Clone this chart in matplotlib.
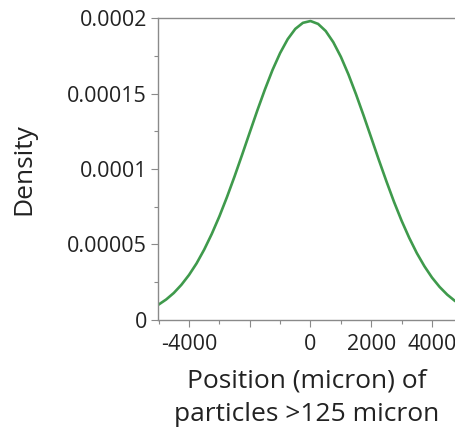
import matplotlib
matplotlib.use("Agg")
import matplotlib.pyplot as plt
from matplotlib.ticker import MultipleLocator

# normal density curve
position = [-5000, -4750, -4500, -4250, -4000, -3750, -3500, -3250, -3000, -2750,
            -2500, -2250, -2000, -1750, -1500, -1250, -1000, -750, -500, -250,
            0, 250, 500, 750, 1000, 1250, 1500, 1750, 2000, 2250,
            2500, 2750, 3000, 3250, 3500, 3750, 4000, 4250, 4500, 4750, 5000]
density = [1.02e-5, 1.36e-5, 1.79e-5, 2.33e-5, 2.98e-5, 3.75e-5, 4.66e-5, 5.70e-5, 6.86e-5, 8.14e-5,
           9.51e-5, 10.95e-5, 12.42e-5, 13.88e-5, 15.27e-5, 16.56e-5, 17.68e-5, 18.60e-5, 19.28e-5, 19.68e-5,
           19.80e-5, 19.61e-5, 19.14e-5, 18.40e-5, 17.43e-5, 16.26e-5, 14.94e-5, 13.53e-5, 12.07e-5, 10.60e-5,
           9.18e-5, 7.82e-5, 6.57e-5, 5.44e-5, 4.43e-5, 3.56e-5, 2.81e-5, 2.19e-5, 1.68e-5, 1.27e-5, 0.95e-5]

x_ticks = [-4000, -2000, 0, 2000, 4000]
x_ticklabels = ["-4000", "", "0", "2000", "4000"]
y_ticks = [0, 0.00005, 0.0001, 0.00015, 0.0002]
y_ticklabels = ["0", "0.00005", "0.0001", "0.00015", "0.0002"]

plt.rcParams["font.family"] = ["Open Sans", "DejaVu Sans"]

fig = plt.figure(figsize=(4.56, 4.34), dpi=100)
ax = fig.add_axes([0.3465, 0.2627, 0.6535, 0.6958])

ax.plot(position, density, color="#3f9a4c", linewidth=1.9)

ax.set_xlim(-5020, 4790)
ax.set_ylim(0, 0.0002)

ax.set_xticks(x_ticks)
ax.set_xticklabels(x_ticklabels)
ax.set_yticks(y_ticks)
ax.set_yticklabels(y_ticklabels)
ax.xaxis.set_minor_locator(MultipleLocator(1000))
ax.yaxis.set_minor_locator(MultipleLocator(0.000025))

gray = "#8a8a8a"
for side in ["left", "bottom", "top"]:
    ax.spines[side].set_color(gray)
    ax.spines[side].set_linewidth(1.0)
ax.spines["right"].set_visible(False)

ax.tick_params(which="major", length=5, width=0.8, color=gray, labelsize=15.5, labelcolor="#222222")
ax.tick_params(which="minor", length=3, width=0.8, color=gray)
ax.tick_params(axis="x", pad=5)
ax.tick_params(axis="y", pad=3)

ax.set_ylabel("Density", fontsize=19, color="#222222", labelpad=22)
ax.set_xlabel("Position (micron) of\nparticles >125 micron", fontsize=19,
              color="#222222", labelpad=10, linespacing=1.45)

fig.savefig("out.png", dpi=100)
